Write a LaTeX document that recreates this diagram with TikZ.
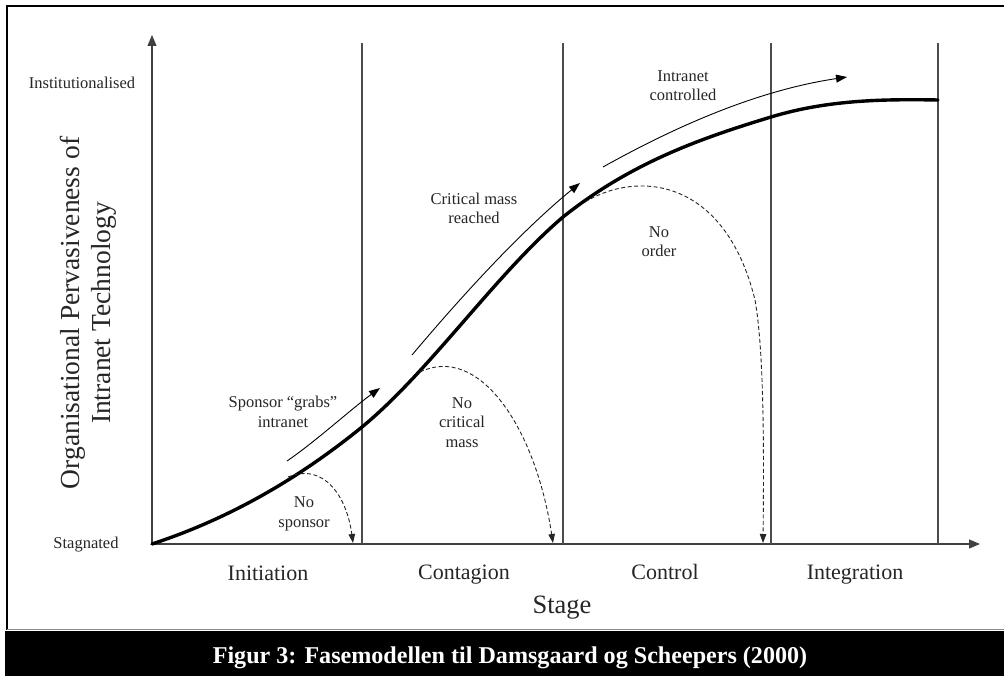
\documentclass[tikz,border=0pt]{standalone}
\usepackage{fontspec}
\setmainfont{Liberation Serif}
\usetikzlibrary{arrows.meta}
\tikzset{
  axisline/.style={draw=black!75, line width=1.2pt},
  stageline/.style={draw=black!70, line width=1.1pt},
  growth/.style={draw=black, line width=3.4pt, line cap=round},
  trend/.style={draw=black, line width=0.9pt, -{Triangle[length=11pt,width=8pt]}},
  failpath/.style={draw=black!85, line width=0.9pt, dash pattern=on 4pt off 2.5pt, -{Triangle[length=9pt,width=6.5pt]}},
  lbl/.style={text=black!85, font=\fontsize{16.5}{19.5}\selectfont, align=center, inner sep=0pt, anchor=base},
  stagelbl/.style={text=black!85, font=\fontsize{22}{26}\selectfont, inner sep=0pt, anchor=base},
}
\begin{document}
\begin{tikzpicture}[x=1pt, y=-1pt]
\useasboundingbox (0,0) rectangle (1004,676);
\fill[white] (0,0) rectangle (1004,676);

% outer frame and caption bar
\draw[black, line width=1.4pt] (1004,6) -- (7,6) -- (7,630);
\draw[black!45, line width=1pt] (7,629.5) -- (1004,629.5);
\fill[black] (5,630.5) rectangle (1004,676);
\node[text=white, font=\bfseries\fontsize{24.1}{28}\selectfont, inner sep=0pt, anchor=base] (caption) at (510,663)
  {Figur 3: Fasemodellen til Damsgaard og Scheepers (2000)};

% axes
\coordinate (O) at (152,544);
\coordinate (ytip) at (152,35);
\coordinate (xtip) at (980,544);
\draw[axisline, -{Triangle[length=11pt,width=9pt]}] (O) -- (ytip);
\draw[axisline, -{Triangle[length=11pt,width=9pt]}] (O) -- (xtip);

% stage boundaries
\foreach \x/\n in {362/b1, 563/b2, 771/b3, 938/b4} {
  \coordinate (\n top) at (\x,43);
  \coordinate (\n bot) at (\x,544);
  \draw[stageline] (\n top) -- (\n bot);
}

% axis labels
\node[lbl] (inst) at (82,89) {Institutionalised};
\node[lbl] (stag) at (86,548) {Stagnated};
\node[text=black!85, font=\fontsize{27.5}{31}\selectfont, align=center, rotate=90, inner sep=0pt] (ytitle) at (88,313)
  {Organisational Pervasiveness of\\Intranet Technology};
\node[stagelbl] (s1) at (268,580) {Initiation};
\node[stagelbl] (s2) at (464,579) {Contagion};
\node[stagelbl] (s3) at (665,579) {Control};
\node[stagelbl] (s4) at (855,579) {Integration};
\node[text=black!85, font=\fontsize{26.5}{30}\selectfont, inner sep=0pt, anchor=base] (xtitle) at (562,613) {Stage};

% growth curve (S-shaped diffusion curve)
\draw[growth] (O)
  .. controls (222,521) and (292,484) .. (362,427)
  .. controls (429,372) and (496,274) .. (563,217)
  .. controls (632,162) and (702,138) .. (771,117)
  .. controls (827,100) and (882,99) .. (938,100);

% trend arrows along the curve
\coordinate (a1s) at (287,461);
\coordinate (a1e) at (380,388);
\draw[trend] (a1s) .. controls (315,442) and (350,410) .. (a1e);
\coordinate (a2s) at (412,355);
\coordinate (a2e) at (580,183);
\draw[trend] (a2s) .. controls (460,298) and (520,232) .. (a2e);
\coordinate (a3s) at (603,167);
\coordinate (a3e) at (847,77);
\draw[trend] (a3s) .. controls (680,124) and (760,90) .. (a3e);

% failure paths
\coordinate (f1s) at (288,477);
\coordinate (f1e) at (353,543);
\draw[failpath] (f1s) .. controls (325,462) and (347,498) .. (f1e);
\coordinate (f2s) at (420,372);
\coordinate (f2e) at (553,543);
\draw[failpath] (f2s) .. controls (478,344) and (535,425) .. (f2e);
\coordinate (f3s) at (585,202);
\coordinate (f3m) at (755,300);
\coordinate (f3e) at (763,543);
\draw[failpath] (f3s) .. controls (638,170) and (725,178) .. (f3m)
  .. controls (764,350) and (764,450) .. (f3e);

% annotations (anchored at the baseline of the last line)
\node[lbl] (t1) at (283,427) {Sponsor \textquotedblleft grabs\textquotedblright\\intranet};
\node[lbl] (t2) at (304,527) {No\\sponsor};
\node[lbl] (t3) at (462,447) {No\\critical\\mass};
\node[lbl] (t4) at (474,224) {Critical mass\\reached};
\node[lbl] (t5) at (659,257) {No\\order};
\node[lbl] (t6) at (683,101) {Intranet\\controlled};
\end{tikzpicture}
\end{document}
